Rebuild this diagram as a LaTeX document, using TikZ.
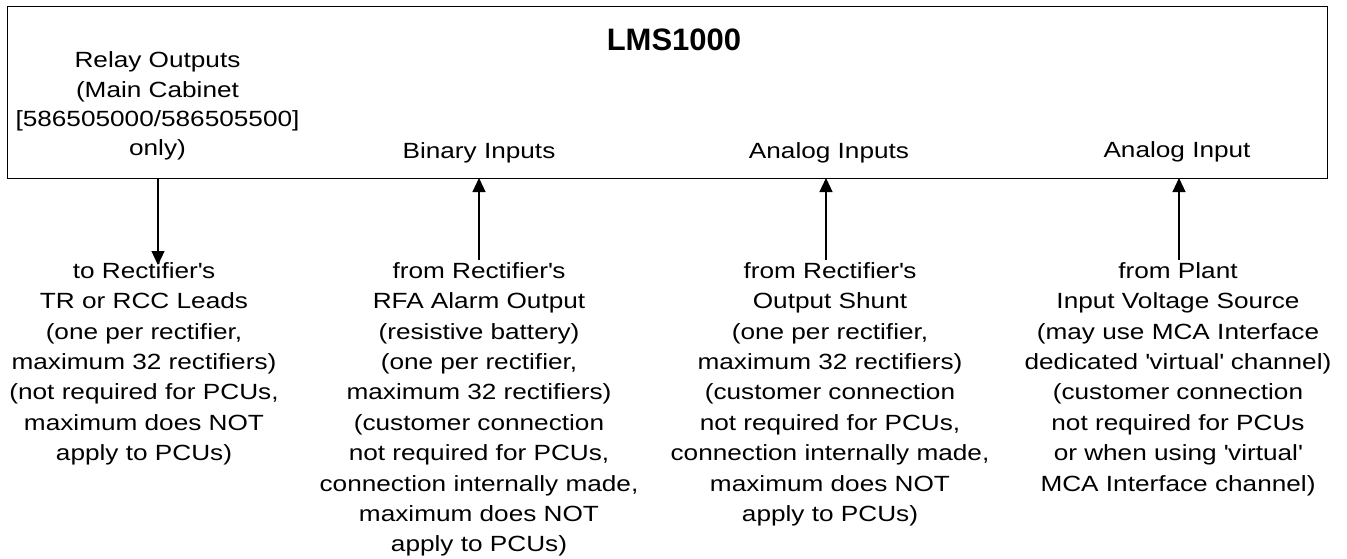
\documentclass[tikz,border=0pt]{standalone}
\usepackage{fontspec}
\setmainfont{Liberation Sans}[FakeStretch=1.19]
\newfontfamily\titlefont{Liberation Sans}
\usetikzlibrary{arrows.meta}
\newcommand\sq{\textquotesingle}
\begin{document}
\begin{tikzpicture}[x=1pt,y=-1pt,
  lbl/.style={align=center,inner sep=0pt,anchor=base,font=\fontsize{22}{30.4}\selectfont},
  toplbl/.style={align=center,inner sep=0pt,anchor=base,font=\fontsize{22}{29.3}\selectfont},
  conn/.style={line width=1.2pt,-{Triangle[length=14pt,width=13pt]}},
  mainbox/.style={draw,line width=1.3pt,inner sep=0pt,anchor=north west,minimum width=1320pt,minimum height=172pt}]
\useasboundingbox (0,0) rectangle (1347,558);
\node[mainbox] (lms) at (7,6) {};
\node[anchor=base,inner sep=0pt,font=\titlefont\bfseries\fontsize{31}{36}\selectfont] (title) at (674,50) {LMS1000};
\node[toplbl] (relay) at (157.5,155.6) {Relay Outputs\\(Main Cabinet\\{[}586505000/586505500{]}\\only)};
\node[lbl] (binary) at (479,158.3) {Binary Inputs};
\node[lbl] (analogs) at (829,158.3) {Analog Inputs};
\node[lbl] (analog) at (1177,157.5) {Analog Input};
\node[lbl] (b1) at (144,460.7) {to Rectifier\sq{}s\\TR or RCC Leads\\(one per rectifier,\\maximum 32 rectifiers)\\(not required for PCUs,\\maximum does NOT\\apply to PCUs)};
\node[lbl] (b2) at (479,551.9) {from Rectifier\sq{}s\\RFA Alarm Output\\(resistive battery)\\(one per rectifier,\\maximum 32 rectifiers)\\(customer connection\\not required for PCUs,\\connection internally made,\\maximum does NOT\\apply to PCUs)};
\node[lbl] (b3) at (830,521.5) {from Rectifier\sq{}s\\Output Shunt\\(one per rectifier,\\maximum 32 rectifiers)\\(customer connection\\not required for PCUs,\\connection internally made,\\maximum does NOT\\apply to PCUs)};
\node[lbl] (b4) at (1178,491.1) {from Plant\\Input Voltage Source\\(may use MCA Interface\\dedicated \sq{}virtual\sq{} channel)\\(customer connection\\not required for PCUs\\or when using \sq{}virtual\sq{}\\MCA Interface channel)};
\coordinate (a1s) at (158,178);
\coordinate (a1e) at (158,265);
\coordinate (a2s) at (479,260);
\coordinate (a2e) at (479,178);
\coordinate (a3s) at (826,260);
\coordinate (a3e) at (826,178);
\coordinate (a4s) at (1179,260);
\coordinate (a4e) at (1179,178);
\draw[conn] (a1s) -- (a1e);
\draw[conn] (a2s) -- (a2e);
\draw[conn] (a3s) -- (a3e);
\draw[conn] (a4s) -- (a4e);
\end{tikzpicture}
\end{document}
